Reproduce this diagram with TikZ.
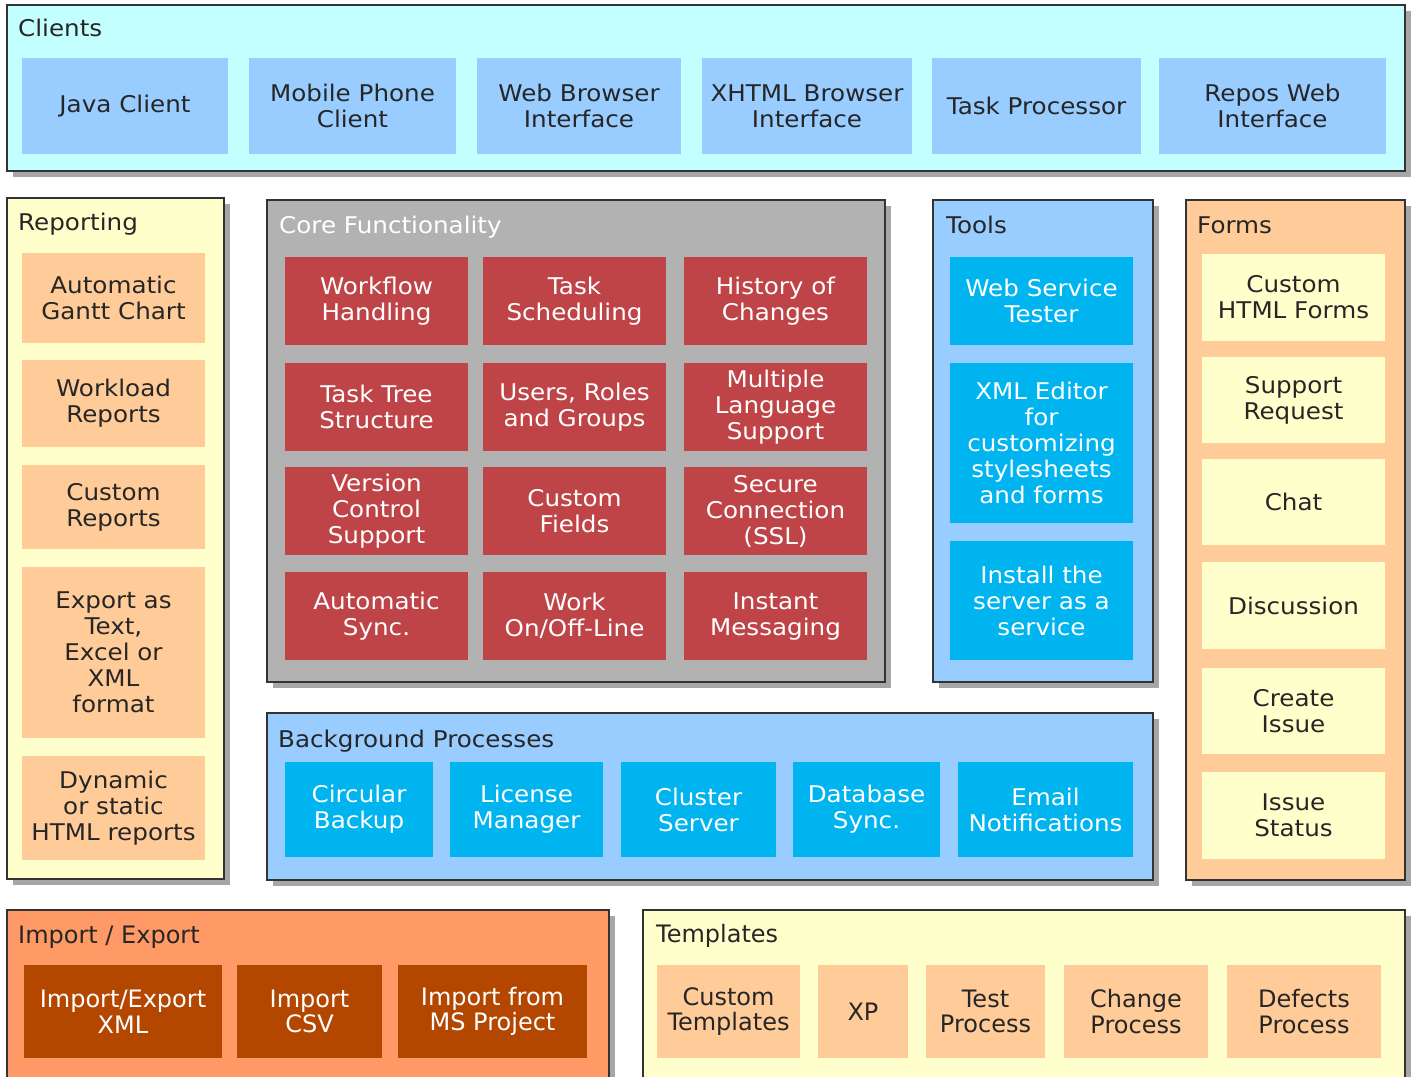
\documentclass[tikz,border=0pt]{standalone}
\usepackage{fontspec}
\setmainfont[FakeStretch=1.07]{DejaVu Sans}
\newfontfamily\tah{DejaVu Sans}
\usetikzlibrary{shadows}
\definecolor{cyanbg}{HTML}{C4FFFF}
\definecolor{lblue}{HTML}{99CCFF}
\definecolor{lyellow}{HTML}{FFFFCC}
\definecolor{peach}{HTML}{FFCC99}
\definecolor{coregray}{HTML}{B2B2B2}
\definecolor{corered}{HTML}{BF4448}
\definecolor{brblue}{HTML}{00B4F0}
\definecolor{orangebg}{HTML}{FF9966}
\definecolor{brown}{HTML}{B34700}
\definecolor{shadowgray}{HTML}{A6A6A6}
\tikzset{
  container/.style={draw=black!80, line width=1.3pt, inner sep=0pt, outer sep=0pt,
    drop shadow={shadow xshift=6pt, shadow yshift=-6pt, fill=shadowgray, opacity=1}},
  title/.style={anchor=base west, inner sep=0pt, font=\fontsize{23}{26}\selectfont},
  item/.style={inner sep=0pt, outer sep=0pt, align=center, font=\fontsize{23}{26}\selectfont},
  tahfont/.style={font=\tah\fontsize{24}{25.5}\selectfont},
  darktext/.style={text=black!85},
  lighttext/.style={text=white},
}
% \bx{name}{style}{x1}{y1}{x2}{y2}{text}
\newcommand\bx[7]{\node[#2, minimum width={#5-#3}, minimum height={#6-#4}] (#1) at ({(#3+#5)/2},{(#4+#6)/2}) {#7};}
\begin{document}
\begin{tikzpicture}[x=1pt,y=-1pt]
\useasboundingbox (0,0) rectangle (1415,1076);
\clip (0,0) rectangle (1415,1076);
\fill[white] (0,0) rectangle (1415,1076);
% ---------- Clients ----------
\bx{clients}{container, fill=cyanbg}{7}{5}{1405}{171}{}
\node[title, darktext] (clientsT) at (18,36) {Clients};
\tikzset{cl/.style={item, fill=lblue, darktext}}
\bx{java}{cl}{22}{58}{228}{154}{Java Client}
\bx{mobile}{cl}{249}{58}{456}{154}{Mobile Phone\\Client}
\bx{webbr}{cl}{477}{58}{681}{154}{Web Browser\\Interface}
\bx{xhtml}{cl}{702}{58}{912}{154}{XHTML Browser\\Interface}
\bx{taskp}{cl}{932}{58}{1141}{154}{Task Processor}
\bx{repos}{cl}{1159}{58}{1386}{154}{Repos Web\\Interface}
% ---------- Reporting ----------
\bx{reporting}{container, fill=lyellow}{7}{198}{224}{879}{}
\node[title, darktext] (reportingT) at (18,230) {Reporting};
\tikzset{rp/.style={item, fill=peach, darktext}}
\bx{gantt}{rp}{22}{253}{205}{343}{Automatic\\Gantt Chart}
\bx{workload}{rp}{22}{360}{205}{447}{Workload\\Reports}
\bx{custrep}{rp}{22}{465}{205}{549}{Custom\\Reports}
\bx{export}{rp}{22}{567}{205}{738}{Export as\\Text,\\Excel or\\XML\\format}
\bx{dynamic}{rp}{22}{756}{205}{860}{Dynamic\\or static\\HTML reports}
% ---------- Core ----------
\bx{core}{container, fill=coregray}{267}{200}{885}{682}{}
\node[title, lighttext] (coreT) at (279,233) {Core Functionality};
\tikzset{cr/.style={item, fill=corered, lighttext}}
\bx{workflow}{cr}{285}{257}{468}{345}{Workflow\\Handling}
\bx{tasksched}{cr}{483}{257}{666}{345}{Task\\Scheduling}
\bx{history}{cr}{684}{257}{867}{345}{History of\\Changes}
\bx{tasktree}{cr}{285}{363}{468}{451}{Task Tree\\Structure}
\bx{users}{cr}{483}{363}{666}{451}{Users, Roles\\and Groups}
\bx{multilang}{cr}{684}{363}{867}{451}{Multiple\\Language\\Support}
\bx{version}{cr}{285}{467}{468}{555}{Version\\Control\\Support}
\bx{custfields}{cr}{483}{467}{666}{555}{Custom\\Fields}
\bx{secure}{cr}{684}{467}{867}{555}{Secure\\Connection\\(SSL)}
\bx{autosync}{cr}{285}{572}{468}{660}{Automatic\\Sync.}
\bx{work}{cr}{483}{572}{666}{660}{Work\\On/Off-Line}
\bx{instant}{cr}{684}{572}{867}{660}{Instant\\Messaging}
% ---------- Tools ----------
\bx{tools}{container, fill=lblue}{933}{200}{1153}{682}{}
\node[title, darktext] (toolsT) at (946,233) {Tools};
\tikzset{tl/.style={item, fill=brblue, lighttext}}
\bx{webservice}{tl}{950}{257}{1133}{345}{Web Service\\Tester}
\bx{xmleditor}{tl}{950}{363}{1133}{523}{XML Editor\\for\\customizing\\stylesheets\\and forms}
\bx{install}{tl}{950}{541}{1133}{660}{Install the\\server as a\\service}
% ---------- Forms ----------
\bx{forms}{container, fill=peach}{1186}{200}{1405}{880}{}
\node[title, darktext] (formsT) at (1197,233) {Forms};
\tikzset{fm/.style={item, fill=lyellow, darktext}}
\bx{htmlforms}{fm}{1202}{254}{1385}{341}{Custom\\HTML Forms}
\bx{support}{fm}{1202}{357}{1385}{443}{Support\\Request}
\bx{chat}{fm}{1202}{459}{1385}{545}{Chat}
\bx{discussion}{fm}{1202}{562}{1385}{649}{Discussion}
\bx{createissue}{fm}{1202}{668}{1385}{754}{Create\\Issue}
\bx{issuestatus}{fm}{1202}{772}{1385}{859}{Issue\\Status}
% ---------- Background Processes ----------
\bx{background}{container, fill=lblue}{267}{713}{1153}{880}{}
\node[title, darktext] (backgroundT) at (278,747) {Background Processes};
\tikzset{bg/.style={item, fill=brblue, lighttext}}
\bx{circular}{bg}{285}{762}{433}{857}{Circular\\Backup}
\bx{license}{bg}{450}{762}{603}{857}{License\\Manager}
\bx{cluster}{bg}{621}{762}{776}{857}{Cluster\\Server}
\bx{database}{bg}{793}{762}{940}{857}{Database\\Sync.}
\bx{email}{bg}{958}{762}{1133}{857}{Email\\Notifications}
% ---------- Import / Export ----------
\bx{importexport}{container, fill=orangebg}{7}{910}{609}{1090}{}
\node[title, darktext, tahfont] (importexportT) at (18,943) {Import / Export};
\tikzset{ie/.style={item, fill=brown, lighttext, tahfont}}
\bx{iexml}{ie}{24}{965}{222}{1058}{Import/Export\\XML}
\bx{icsv}{ie}{237}{965}{382}{1058}{Import\\CSV}
\bx{imsp}{ie}{398}{965}{587}{1058}{Import from\\MS Project}
% ---------- Templates ----------
\bx{templates}{container, fill=lyellow}{643}{910}{1405}{1090}{}
\node[title, darktext, tahfont] (templatesT) at (656,942) {Templates};
\tikzset{tp/.style={item, fill=peach, darktext, tahfont}}
\bx{custtempl}{tp}{657}{965}{800}{1058}{Custom\\Templates}
\bx{xp}{tp}{818}{965}{908}{1058}{XP}
\bx{testproc}{tp}{926}{965}{1045}{1058}{Test\\Process}
\bx{changeproc}{tp}{1064}{965}{1208}{1058}{Change\\Process}
\bx{defects}{tp}{1227}{965}{1381}{1058}{Defects\\Process}
\end{tikzpicture}
\end{document}
